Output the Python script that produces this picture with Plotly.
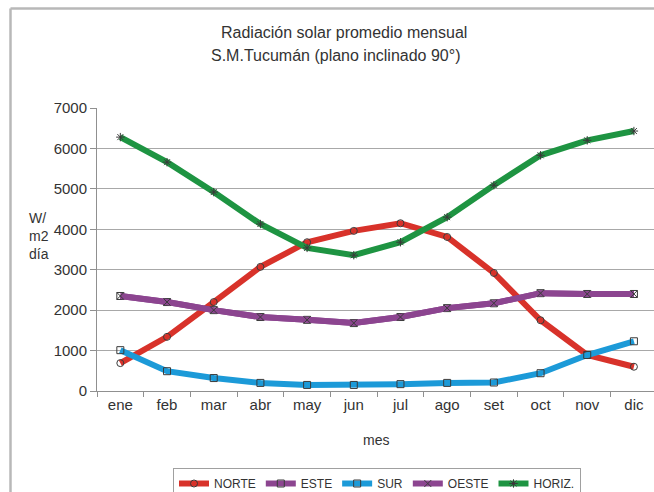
import plotly.graph_objects as go

# Months (categorical x axis)
meses = ["ene", "feb", "mar", "abr", "may", "jun", "jul", "ago", "set", "oct", "nov", "dic"]

# Monthly mean solar radiation on a vertical plane, W/m2 día
norte = [690, 1340, 2200, 3070, 3680, 3960, 4150, 3810, 2920, 1750, 890, 600]
este = [2350, 2200, 2000, 1830, 1760, 1680, 1830, 2050, 2170, 2420, 2400, 2400]
sur = [1010, 490, 320, 200, 150, 150, 170, 200, 210, 440, 890, 1230]
oeste = [2350, 2200, 2000, 1830, 1760, 1680, 1830, 2050, 2170, 2420, 2400, 2400]
horiz = [6280, 5660, 4920, 4130, 3540, 3360, 3680, 4300, 5090, 5830, 6200, 6430]

series = [
    ("NORTE", norte, "#d8322a", "circle-open"),
    ("ESTE", este, "#8c4590", "square-open"),
    ("SUR", sur, "#1c9ad8", "square-open"),
    ("OESTE", oeste, "#8c4590", "x-thin-open"),
    ("HORIZ.", horiz, "#1e9442", "asterisk-open"),
]

fig = go.Figure()
for name, vals, color, sym in series:
    fig.add_trace(go.Scatter(
        x=meses, y=vals, name=name, mode="lines+markers",
        line=dict(color=color, width=6),
        marker=dict(symbol=sym, size=7, color="#3a3a3a", line=dict(width=1, color="#3a3a3a")),
    ))

W, H = 654, 492
L, R, T, B = 97, 0, 108, 101
pw = W - L - R
ph = H - T - B


def px_x(px):
    return (px - L) / pw


def px_y(py):
    return (H - B - py) / ph


font = "Liberation Sans, Arial, sans-serif"
txt = "#333333"

fig.update_layout(
    width=W, height=H,
    margin=dict(l=L, r=R, t=T, b=B, autoexpand=False),
    paper_bgcolor="white", plot_bgcolor="white",
    font=dict(family=font, size=15, color=txt),
    showlegend=True,
    legend=dict(
        orientation="h", x=px_x(173), y=px_y(468), xanchor="left", yanchor="top",
        bgcolor="white", bordercolor="#a0a0a0", borderwidth=1,
        font=dict(size=12, color=txt), itemwidth=30, tracegroupgap=0,
    ),
    xaxis=dict(
        type="category", range=[-0.5, 11.43],
        showline=True, linecolor="#909090", linewidth=1,
        ticks="outside", tickson="boundaries", ticklen=5, tickcolor="#909090",
        showgrid=False, tickfont=dict(size=15, color=txt),
    ),
    yaxis=dict(
        range=[0, 7000], dtick=1000,
        showline=True, linecolor="#909090", linewidth=1,
        ticks="outside", ticklen=6, tickcolor="#909090",
        showgrid=True, gridcolor="#a8a8a8", gridwidth=1,
        zeroline=False, tickfont=dict(size=15, color=txt),
    ),
    annotations=[
        dict(text="Radiación solar promedio mensual", x=px_x(344), y=px_y(33),
             xref="paper", yref="paper", showarrow=False, xanchor="center", yanchor="middle",
             font=dict(size=16, color=txt)),
        dict(text="S.M.Tucumán (plano inclinado 90°)", x=px_x(335), y=px_y(55),
             xref="paper", yref="paper", showarrow=False, xanchor="center", yanchor="middle",
             font=dict(size=16, color=txt)),
        dict(text="W/<br>m2<br>día", x=px_x(27), y=px_y(236), align="left",
             xref="paper", yref="paper", showarrow=False, xanchor="left", yanchor="middle",
             font=dict(size=14, color=txt)),
        dict(text="mes", x=px_x(376), y=px_y(440),
             xref="paper", yref="paper", showarrow=False, xanchor="center", yanchor="middle",
             font=dict(size=14, color=txt)),
    ],
    shapes=[
        dict(type="line", xref="paper", yref="paper", x0=px_x(10.5), x1=px_x(660),
             y0=px_y(8.5), y1=px_y(8.5), line=dict(color="#b8b8b8", width=2.5)),
        dict(type="line", xref="paper", yref="paper", x0=px_x(10.5), x1=px_x(10.5),
             y0=px_y(8.5), y1=px_y(500), line=dict(color="#b8b8b8", width=2.5)),
    ],
)

fig.write_html("out.html")
